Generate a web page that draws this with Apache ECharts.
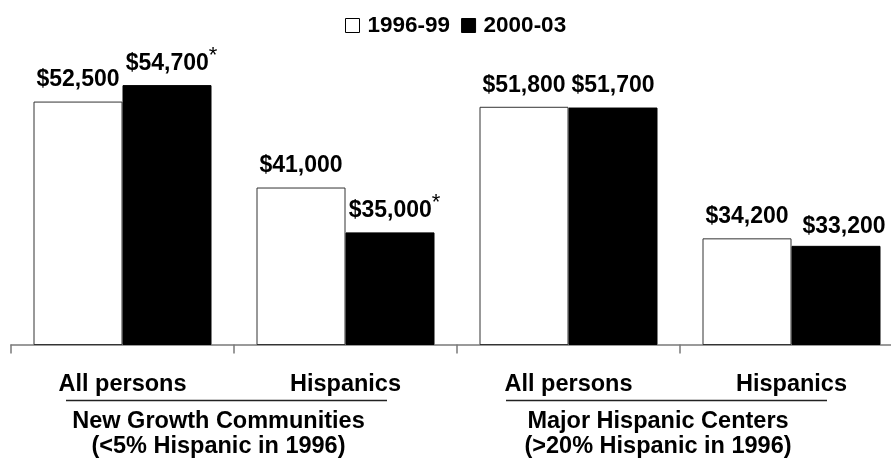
<!DOCTYPE html>
<html>
<head>
<meta charset="utf-8">
<script src="https://cdn.jsdelivr.net/npm/echarts@6/dist/echarts.min.js"></script>
<style>
  html, body { margin: 0; padding: 0; background: #fff; }
  #chart { width: 891px; height: 466px; }
</style>
</head>
<body>
<div id="chart"></div>
<script>
// ---- data ----
const categories = ['All persons', 'Hispanics', 'All persons', 'Hispanics'];
const seriesNames = ['1996-99', '2000-03'];
const values1996 = [52500, 41000, 51800, 34200];
const values2000 = [54700, 35000, 51700, 33200];
const significant1996 = [false, false, false, false];
const significant2000 = [true, true, false, false];
const groupTitles = ['New Growth Communities\n(<5% Hispanic in 1996)', 'Major Hispanic Centers\n(>20% Hispanic in 1996)'];

// ---- styling ----
const FONT = "'Liberation Sans', Arial, Helvetica, sans-serif";

function fmtMoney(v) {
  return '$' + v.toLocaleString('en-US');
}
function makeFormatter(flags) {
  return function (p) {
    const t = fmtMoney(p.value);
    return flags[p.dataIndex] ? '{p| }{v|' + t + '}{s|*}' : '{v|' + t + '}';
  };
}
const richStyles = {
  v: { fontSize: 23, fontWeight: 'bold', fontFamily: FONT, color: '#000' },
  p: { width: 9, fontSize: 18, lineHeight: 8 },
  s: { fontSize: 22, lineHeight: 8, verticalAlign: 'bottom', padding: [0, 0, 8, 0], fontFamily: FONT, color: '#000' }
};

const data2000 = values2000.map(function (v, i) {
  if (i === 3) return { value: v, label: { offset: [8, 2] } };
  return v;
});

const chart = echarts.init(document.getElementById('chart'), null, { renderer: 'canvas' });
chart.setOption({
  animation: false,
  backgroundColor: '#ffffff',
  legend: {
    left: 340,
    top: 9,
    itemWidth: 14,
    itemHeight: 14,
    itemGap: 11,
    textStyle: { fontSize: 22.5, fontWeight: 'bold', fontFamily: FONT, color: '#000', padding: [0, 0, 0, 3] },
    data: [
      { name: seriesNames[0], icon: 'rect', itemStyle: { color: '#fff', borderColor: '#000', borderWidth: 1 } },
      { name: seriesNames[1], icon: 'rect', itemStyle: { color: '#000', borderColor: '#000', borderWidth: 1 } }
    ]
  },
  grid: { left: 11, top: 45.5, right: -12, height: 299, outerBoundsMode: 'none', containLabel: false },
  xAxis: {
    type: 'category',
    data: categories,
    boundaryGap: true,
    axisLine: { show: true, lineStyle: { color: '#7a7a7a', width: 1.5 } },
    axisTick: { show: true, length: 9, lineStyle: { color: '#7a7a7a', width: 1.5 } },
    axisLabel: { interval: 0, margin: 28, fontSize: 23.5, fontWeight: 'bold', fontFamily: FONT, color: '#000' }
  },
  yAxis: {
    type: 'value',
    min: 20000,
    max: 60000,
    show: false,
    splitLine: { show: false }
  },
  series: [
    {
      name: seriesNames[0],
      type: 'bar',
      data: values1996,
      barWidth: 89,
      barGap: '0%',
      itemStyle: { color: '#ffffff', borderColor: '#333', borderWidth: 1 },
      label: { show: true, position: 'top', distance: 10, formatter: makeFormatter(significant1996), rich: richStyles }
    },
    {
      name: seriesNames[1],
      type: 'bar',
      data: data2000,
      barWidth: 89,
      barGap: '0%',
      itemStyle: { color: '#000000', borderColor: '#000', borderWidth: 1 },
      label: { show: true, position: 'top', distance: 10, formatter: makeFormatter(significant2000), rich: richStyles }
    }
  ],
  graphic: [
    { type: 'line', shape: { x1: 66, y1: 400.5, x2: 387, y2: 400.5 }, style: { stroke: '#222', lineWidth: 1.3 } },
    { type: 'line', shape: { x1: 506, y1: 400.5, x2: 827, y2: 400.5 }, style: { stroke: '#222', lineWidth: 1.3 } },
    { type: 'text', x: 218.5, y: 409.5, style: { text: groupTitles[0], textAlign: 'center', textVerticalAlign: 'top', lineHeight: 25, fontSize: 23.5, fontWeight: 'bold', fontFamily: FONT, fill: '#000' } },
    { type: 'text', x: 658, y: 409.5, style: { text: groupTitles[1], textAlign: 'center', textVerticalAlign: 'top', lineHeight: 25, fontSize: 23.5, fontWeight: 'bold', fontFamily: FONT, fill: '#000' } }
  ]
});
</script>
</body>
</html>
